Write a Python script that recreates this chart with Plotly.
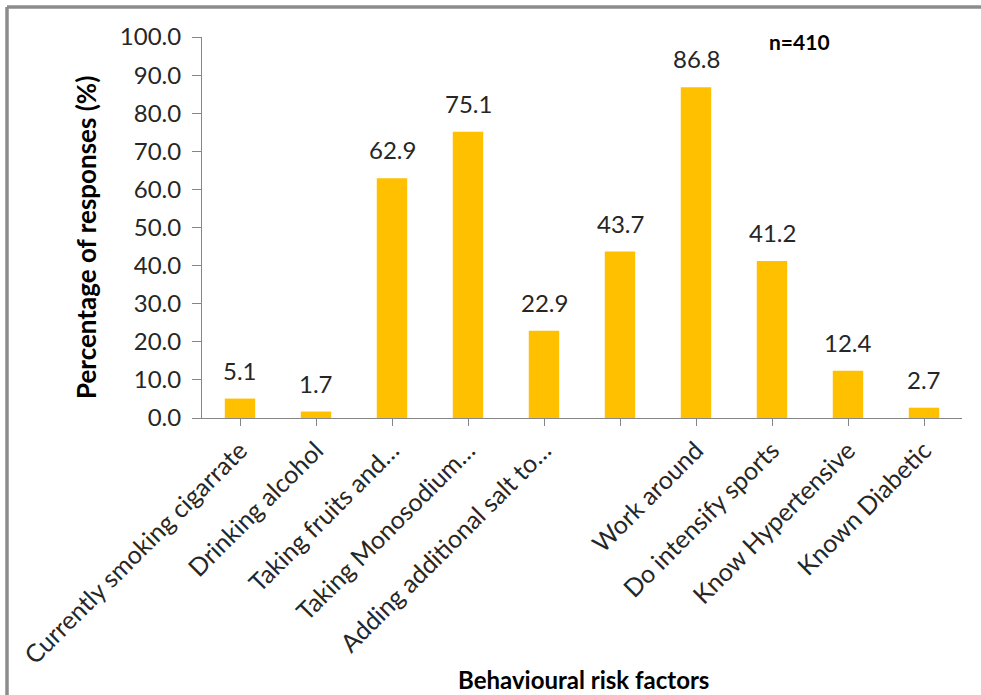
import plotly.graph_objects as go

categories = [
    "Currently smoking cigarrate",
    "Drinking alcohol",
    "Taking fruits and…",
    "Taking Monosodium…",
    "Adding additional salt to…",
    " ",
    "Work around",
    "Do intensify sports",
    "Know Hypertensive",
    "Known Diabetic",
]
values = [5.1, 1.7, 62.9, 75.1, 22.9, 43.7, 86.8, 41.2, 12.4, 2.7]
y_ticks = [0, 10, 20, 30, 40, 50, 60, 70, 80, 90, 100]
y_tick_text = [f"{v:.1f}" for v in y_ticks]

FONT = "Lato"
TEXT = "#262626"
AXIS = "#868686"
BAR = "#FFC000"

W, H = 981, 695
L, R, T, B = 202, 19, 37, 277
pw, ph = W - L - R, H - T - B


def px_x(x):
    return (x - L) / pw


def px_y(y):
    return (H - B - y) / ph


fig = go.Figure(
    go.Bar(
        x=list(range(len(categories))),
        y=values,
        width=0.4,
        marker=dict(color=BAR, line=dict(width=0)),
        hoverinfo="skip",
    )
)

annotations = [
    dict(
        x=i, y=v, xref="x", yref="y", text=f"{v:.1f}", showarrow=False,
        xanchor="center", yanchor="bottom", yshift=12,
        font=dict(family=FONT, size=24, color=TEXT),
    )
    for i, v in enumerate(values)
]
annotations += [
    dict(
        x=px_x(86), y=px_y(238), xref="paper", yref="paper", textangle=-90,
        xanchor="center", yanchor="middle",
        text="<b>Percentage of responses (%)</b>", showarrow=False,
        font=dict(family=FONT, size=26, color="#000"),
    ),
    dict(
        x=px_x(583), y=px_y(679), xref="paper", yref="paper",
        xanchor="center", yanchor="middle",
        text="<b>Behavioural risk factors</b>", showarrow=False,
        font=dict(family=FONT, size=24, color="#000"),
    ),
    dict(
        x=px_x(799), y=px_y(41), xref="paper", yref="paper",
        xanchor="center", yanchor="middle",
        text="<b>n=410</b>", showarrow=False,
        font=dict(family=FONT, size=21, color="#000"),
    ),
]

frame = dict(color="#8c8c8c", width=3.5)
shapes = [
    dict(type="line", xref="paper", yref="paper",
         x0=px_x(7), x1=px_x(981), y0=px_y(7), y1=px_y(7), line=frame),
    dict(type="line", xref="paper", yref="paper",
         x0=px_x(7), x1=px_x(7), y0=px_y(7), y1=px_y(700), line=frame),
]

fig.update_layout(
    width=W, height=H,
    margin=dict(l=L, r=R, t=T, b=B, autoexpand=False),
    paper_bgcolor="white", plot_bgcolor="white",
    showlegend=False,
    annotations=annotations,
    shapes=shapes,
    xaxis=dict(
        range=[-0.5, len(categories) - 0.5],
        tickmode="array",
        tickvals=list(range(len(categories))),
        ticktext=categories,
        tickangle=-45,
        tickfont=dict(family=FONT, size=25, color=TEXT),
        showline=True, linecolor=AXIS, linewidth=1,
        ticks="outside", ticklen=7, tickcolor=AXIS,
        showgrid=False, zeroline=False,
        automargin=False,
    ),
    yaxis=dict(
        range=[0, 100],
        tickmode="array",
        tickvals=y_ticks,
        ticktext=y_tick_text,
        tickfont=dict(family=FONT, size=24, color=TEXT),
        showline=True, linecolor=AXIS, linewidth=1,
        ticks="outside", ticklen=9, tickcolor=AXIS,
        ticklabelstandoff=6,
        showgrid=False, zeroline=False,
        automargin=False,
    ),
)

fig.write_html("out.html", config={"displayModeBar": False})
